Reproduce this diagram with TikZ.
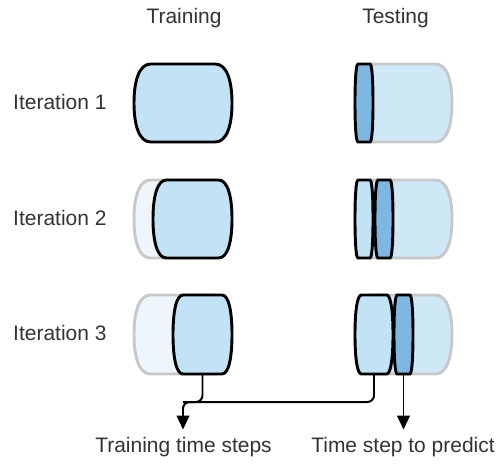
\documentclass[tikz,border=0pt]{standalone}
\usepackage{fontspec}
\setmainfont{Liberation Sans}
\usetikzlibrary{arrows.meta,calc}
\definecolor{slotfill}{HTML}{C2E3F6}
\definecolor{slotdark}{HTML}{7DB7E2}
\definecolor{slotback}{HTML}{CFE8F5}
\definecolor{slotfade}{HTML}{EEF6FC}
\definecolor{slotgray}{HTML}{C8C8C8}
\definecolor{txtgray}{HTML}{333333}
\tikzset{
  cur/.style={draw=black, fill=slotfill, line width=2.5pt},
  target/.style={draw=black, fill=slotdark, line width=2.5pt},
  backtest/.style={draw=slotgray, fill=slotback, line width=2.5pt},
  backtrain/.style={draw=slotgray, fill=slotfade, line width=2.5pt},
  lbl/.style={font=\fontsize{17.9pt}{21pt}\selectfont, text=txtgray,
    inner sep=0pt, anchor=base},
  conn/.style={line width=1.7pt, rounded corners=0.2cm},
  arr/.style={conn, -{Triangle[length=0.42cm, width=0.38cm]}},
}

% barrel shaped time slot: \barrelslot{style}{name}{x0}{y0}{x1}{y1}
\newcommand{\barrelslot}[6]{%
  \pgfmathsetmacro{\dd}{0.17*(#5-#3)}%
  \pgfmathsetmacro{\hh}{0.22*(#6-#4)}%
  \pgfmathsetmacro{\ym}{0.5*(#4+#6)}%
  \path[#1] (#3+\dd,#4) -- (#5-\dd,#4)
    .. controls (#5-0.3*\dd,#4) and (#5,#4+\hh) .. (#5,\ym)
    .. controls (#5,#6-\hh) and (#5-0.3*\dd,#6) .. (#5-\dd,#6)
    -- (#3+\dd,#6)
    .. controls (#3+0.3*\dd,#6) and (#3,#6-\hh) .. (#3,\ym)
    .. controls (#3,#4+\hh) and (#3+0.3*\dd,#4) .. cycle;
  \node[inner sep=0pt, minimum width={(#5-#3)*0.03cm},
    minimum height={(#6-#4)*0.03cm}] (#2) at ({0.5*(#3+#5)},\ym) {};%
}

\begin{document}
\begin{tikzpicture}[x=0.03cm, y=-0.03cm]
\useasboundingbox (0,0) rectangle (499,464);

% ---------------- HEADERS ----------------
\node[lbl] (h-train) at (184,23) {Training};
\node[lbl] (h-test) at (395.5,23) {Testing};

\node[lbl, anchor=base west] (it1) at (13,109) {Iteration 1};
\node[lbl, anchor=base west] (it2) at (13,225) {Iteration 2};
\node[lbl, anchor=base west] (it3) at (13,340) {Iteration 3};

% ---------------- ITERATION 1 ----------------
\barrelslot{cur}{tr1}{134}{64}{232}{142}
\barrelslot{backtest}{tb1}{355}{64}{452}{142}
\barrelslot{target}{ts1}{355}{64}{373}{142}

% ---------------- ITERATION 2 ----------------
\barrelslot{backtrain}{trb2}{134}{180}{230}{258}
\barrelslot{cur}{tr2}{153}{180}{232}{258}
\barrelslot{backtest}{tb2}{355}{180}{452}{258}
\barrelslot{cur}{ts2a}{355}{180}{373}{258}
\barrelslot{target}{ts2b}{375}{180}{393}{258}

% ---------------- ITERATION 3 ----------------
\barrelslot{backtrain}{trb3}{134}{295}{230}{374}
\barrelslot{cur}{tr3}{173}{295}{232}{374}
\barrelslot{backtest}{tb3}{355}{295}{452}{374}
\barrelslot{cur}{ts3a}{355}{295}{393}{374}
\barrelslot{target}{ts3b}{394}{295}{413}{374}

% ---------------- OUTPUT LABELS ----------------
\node[lbl] (l-train) at (183.5,452) {Training time steps};
\node[lbl] (l-pred) at (403,452) {Time step to predict};

\coordinate (join) at (183,402);
\coordinate (tip-train) at ($(l-train.north)+(-0.5,-7)$);
\coordinate (tip-pred) at (ts3b.south |- tip-train);

% ---------------- CONNECTORS ----------------
\draw[arr] (ts3a.south) |- (join) -- (tip-train);
\draw[conn] (tr3.south) |- (join);
\draw[arr] (ts3b.south) -- (tip-pred);

\end{tikzpicture}
\end{document}
